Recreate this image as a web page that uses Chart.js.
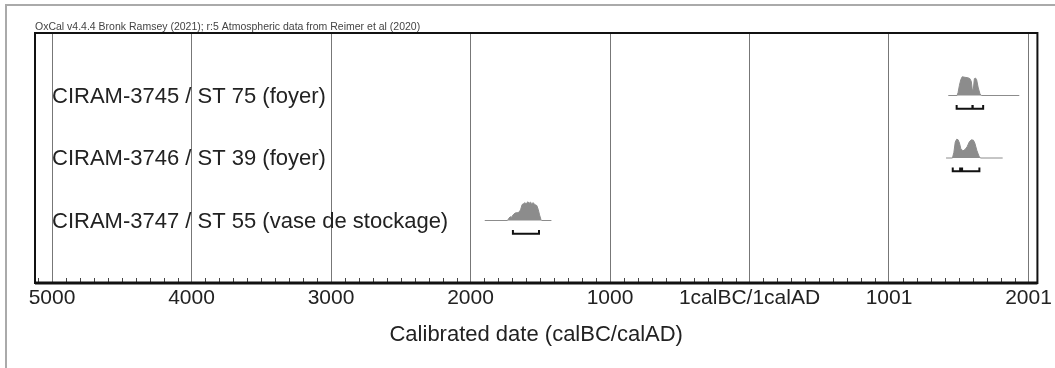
<!DOCTYPE html>
<html>
<head>
<meta charset="utf-8">
<script src="https://cdn.jsdelivr.net/npm/chart.js@4/dist/chart.umd.min.js"></script>
<style>
  html, body { margin: 0; padding: 0; background: #fff; }
  #wrap { width: 1055px; height: 368px; position: relative; }
</style>
</head>
<body>
<div id="wrap"><canvas id="c" width="1055" height="368"></canvas></div>
<script>
// sample names, top to bottom
const sampleLabels = [
  'CIRAM-3745 / ST 75 (foyer)',
  'CIRAM-3746 / ST 39 (foyer)',
  'CIRAM-3747 / ST 55 (vase de stockage)'
];
const rowBase = [3, 2, 1];

// calibrated probability (years, negative = BC) and relative density
const years3745 = [1425, 1488, 1495, 1505, 1515, 1525, 1545, 1565, 1580, 1590, 1598, 1605, 1612, 1620, 1628, 1640, 1652, 1662, 1934];
const dens3745  = [0,    0,    0.15, 0.55, 0.85, 1.0,  0.97, 0.95, 0.9,  0.75, 0.25, 0.35, 0.9,  0.93, 0.85, 0.4,  0.1,  0,    0];

const years3746 = [1409, 1455, 1465, 1475, 1485, 1495, 1505, 1515, 1530, 1545, 1560, 1575, 1590, 1605, 1615, 1630, 1645, 1655, 1815];
const dens3746  = [0,    0,    0.3,  0.85, 1.0,  0.98, 0.8,  0.5,  0.38, 0.45, 0.6,  0.85, 0.97, 0.95, 0.8,  0.4,  0.1,  0,    0];

const years3747 = [-1898, -1735, -1725, -1715, -1705, -1695, -1680, -1665, -1650, -1640, -1630, -1620, -1610, -1600, -1590, -1580, -1570, -1560, -1550, -1540, -1525, -1515, -1505, -1495, -1490, -1420];
const dens3747  = [0,     0,     0.12,  0.2,   0.18,  0.3,   0.4,   0.42,  0.45,  0.6,   0.85,  0.9,   0.95,  0.88,  1.0,   0.92,  0.98,  0.9,   0.95,  0.85,  0.8,   0.6,   0.3,   0.05,  0,     0];

// 95.4% ranges
const ranges3745 = [[1485, 1598], [1600, 1675]];
const ranges3746 = [[1457, 1510], [1524, 1648]];
const ranges3747 = [[-1696, -1509]];

const majorTicks = [-5000, -4000, -3000, -2000, -1000, 0, 1000, 2000];
const tickLabels = ['5000', '4000', '3000', '2000', '1000', '1calBC/1calAD', '1001', '2001'];

const headerText = 'OxCal v4.4.4 Bronk Ramsey (2021); r:5 Atmospheric data from Reimer et al (2020)';

const rows = [
  { years: years3745, dens: dens3745, ranges: ranges3745 },
  { years: years3746, dens: dens3746, ranges: ranges3746 },
  { years: years3747, dens: dens3747, ranges: ranges3747 }
];

const peakH = 0.3;     // height of a peak in row units
const brY = 0.21;      // bracket offset below baseline
const brTick = 0.06;

const datasets = [];
rows.forEach((r, i) => {
  const base = rowBase[i];
  datasets.push({
    data: r.years.map((y, k) => ({ x: y, y: base + r.dens[k] * peakH })),
    borderColor: '#8c8c8c',
    backgroundColor: '#8c8c8c',
    borderWidth: 1,
    pointRadius: 0,
    fill: { value: base },
    tension: 0
  });
  const br = [];
  r.ranges.forEach(([a, b]) => {
    br.push({ x: a, y: base - brY + brTick }, { x: a, y: base - brY },
            { x: b, y: base - brY }, { x: b, y: base - brY + brTick }, { x: b, y: null });
  });
  datasets.push({
    data: br,
    borderColor: '#111',
    borderWidth: 2,
    pointRadius: 0,
    fill: false,
    spanGaps: false,
    tension: 0
  });
});

const oxcalPlugin = {
  id: 'oxcal',
  beforeDraw(chart) {
    const ctx = chart.ctx;
    ctx.save();
    ctx.strokeStyle = '#aaa';
    ctx.lineWidth = 2;
    ctx.beginPath();
    ctx.moveTo(6, 368);
    ctx.lineTo(6, 5);
    ctx.lineTo(1055, 5);
    ctx.stroke();
    ctx.restore();
  },
  afterDraw(chart) {
    const { ctx, chartArea: { left, right, top, bottom } } = chart;
    const xs = chart.scales.x, ys = chart.scales.y;
    ctx.save();
    // minor ticks every 100 years
    ctx.strokeStyle = '#444';
    ctx.lineWidth = 1;
    ctx.beginPath();
    for (let v = -5100; v <= 2000; v += 100) {
      if (v % 1000 === 0) continue;
      const px = Math.round(xs.getPixelForValue(v)) + 0.5;
      ctx.moveTo(px, bottom);
      ctx.lineTo(px, bottom - 5);
    }
    ctx.stroke();
    // frame
    ctx.strokeStyle = '#111';
    ctx.lineWidth = 2;
    ctx.strokeRect(left, top, right - left, bottom - top);
    ctx.lineWidth = 3;
    ctx.beginPath();
    ctx.moveTo(left, bottom);
    ctx.lineTo(right, bottom);
    ctx.stroke();
    // header
    ctx.fillStyle = '#444';
    ctx.font = '10.5px "Liberation Sans", Arial, sans-serif';
    ctx.textAlign = 'left';
    ctx.textBaseline = 'alphabetic';
    ctx.fillText(headerText, left, top - 3);
    // sample labels
    ctx.fillStyle = '#222';
    ctx.font = '22px "Liberation Sans", Arial, sans-serif';
    ctx.textBaseline = 'middle';
    const lx = xs.getPixelForValue(-5000);
    sampleLabels.forEach((t, i) => {
      ctx.fillText(t, lx, ys.getPixelForValue(rowBase[i]) + 1);
    });
    ctx.restore();
  }
};

new Chart(document.getElementById('c'), {
  type: 'line',
  data: { datasets },
  options: {
    responsive: false,
    animation: false,
    layout: { padding: { left: 35, right: 17, top: 33, bottom: 0 } },
    plugins: { legend: { display: false }, tooltip: { enabled: false } },
    scales: {
      x: {
        type: 'linear',
        min: -5122,
        max: 2064,
        afterBuildTicks: s => { s.ticks = majorTicks.map(v => ({ value: v })); },
        afterFit: s => { s.height = 85; },
        ticks: {
          autoSkip: false,
          maxRotation: 0,
          padding: 3,
          color: '#222',
          font: { family: '"Liberation Sans", Arial, sans-serif', size: 21 },
          callback: (v, i) => tickLabels[i]
        },
        grid: { color: '#777', lineWidth: 1, drawTicks: false },
        border: { display: false },
        title: {
          display: true,
          text: 'Calibrated date (calBC/calAD)',
          color: '#222',
          font: { family: '"Liberation Sans", Arial, sans-serif', size: 22 },
          padding: { top: 0, bottom: 20 }
        }
      },
      y: { type: 'linear', min: 0, max: 4, display: false }
    }
  },
  plugins: [oxcalPlugin]
});
</script>
</body>
</html>
